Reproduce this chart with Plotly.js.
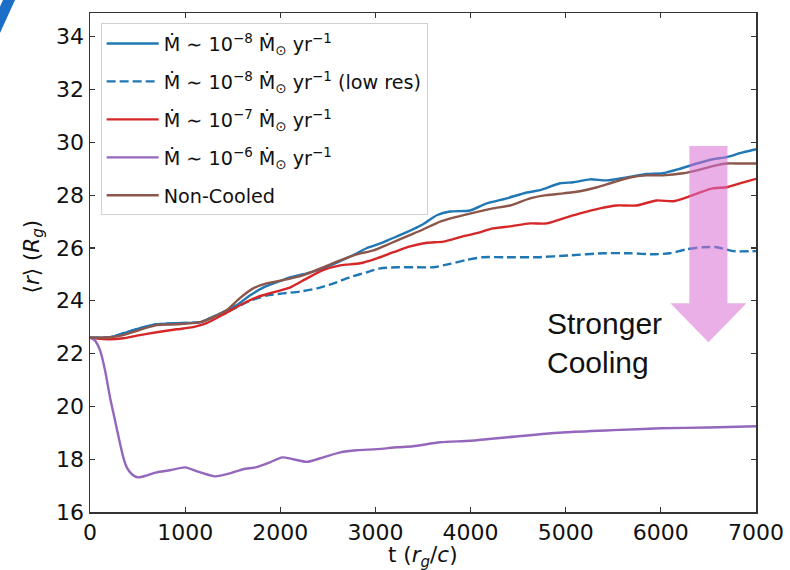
<!DOCTYPE html>
<html>
<head>
<meta charset="utf-8">
<script src="https://cdn.plot.ly/plotly-3.0.1.min.js"></script>
<style>
  html, body { margin: 0; padding: 0; background: #ffffff; }
  #chart { width: 790px; height: 570px; }
</style>
</head>
<body>
<div id="chart"></div>
<script>
// Mean radius <r> versus time for runs with different accretion rates

const tBlue = [0, 210, 350, 525, 700, 910, 1160, 1260, 1400, 1540, 1680, 1820, 1960, 2100, 2280, 2450, 2630, 2805, 2910, 3050, 3155, 3330, 3500, 3645, 3785, 3995, 4170, 4380, 4590, 4730, 4940, 5080, 5255, 5430, 5640, 5850, 6020, 6200, 6380, 6545, 6690, 6830, 7000];
const rBlue = [22.6, 22.62, 22.77, 22.96, 23.11, 23.15, 23.19, 23.34, 23.57, 23.83, 24.2, 24.5, 24.7, 24.89, 25.04, 25.23, 25.5, 25.8, 26.0, 26.17, 26.33, 26.6, 26.9, 27.24, 27.38, 27.42, 27.69, 27.88, 28.1, 28.19, 28.45, 28.49, 28.6, 28.56, 28.67, 28.8, 28.83, 29.0, 29.2, 29.36, 29.44, 29.59, 29.74];

const tLowRes = [0, 210, 350, 525, 700, 910, 1160, 1260, 1400, 1540, 1680, 1855, 2030, 2210, 2385, 2560, 2730, 2910, 3050, 3225, 3435, 3610, 3785, 3960, 4130, 4380, 4700, 5045, 5395, 5675, 5920, 6095, 6270, 6445, 6590, 6760, 7000];
const rLowRes = [22.6, 22.62, 22.77, 22.96, 23.11, 23.15, 23.19, 23.32, 23.5, 23.75, 24.0, 24.2, 24.28, 24.35, 24.47, 24.66, 24.89, 25.08, 25.23, 25.27, 25.27, 25.27, 25.4, 25.55, 25.65, 25.65, 25.65, 25.72, 25.8, 25.8, 25.76, 25.8, 25.95, 26.03, 26.03, 25.88, 25.88];

const tRed = [0, 210, 350, 525, 700, 910, 1085, 1225, 1400, 1575, 1750, 1925, 2100, 2280, 2450, 2630, 2840, 3015, 3190, 3365, 3540, 3715, 3890, 4065, 4235, 4415, 4625, 4800, 5010, 5150, 5360, 5535, 5745, 5955, 6130, 6270, 6415, 6545, 6690, 6830, 7000];
const rRed = [22.6, 22.54, 22.58, 22.7, 22.81, 22.92, 23.0, 23.15, 23.48, 23.83, 24.13, 24.32, 24.5, 24.85, 25.16, 25.34, 25.42, 25.61, 25.84, 26.06, 26.2, 26.24, 26.41, 26.56, 26.74, 26.82, 26.93, 26.93, 27.16, 27.31, 27.5, 27.61, 27.61, 27.8, 27.77, 27.92, 28.11, 28.26, 28.3, 28.45, 28.62];

const tPurple = [0, 50, 105, 158, 210, 263, 315, 350, 385, 440, 505, 600, 700, 840, 1000, 1160, 1315, 1470, 1610, 1750, 1890, 2020, 2135, 2280, 2450, 2630, 2805, 3015, 3225, 3395, 3680, 4000, 4500, 5000, 5500, 6000, 6500, 7000];
const rPurple = [22.6, 22.5, 22.13, 21.37, 20.35, 19.47, 18.6, 18.07, 17.7, 17.43, 17.31, 17.39, 17.5, 17.58, 17.69, 17.5, 17.35, 17.46, 17.62, 17.7, 17.88, 18.07, 18.0, 17.9, 18.07, 18.26, 18.34, 18.38, 18.45, 18.49, 18.64, 18.7, 18.87, 19.02, 19.1, 19.17, 19.2, 19.25];

const tBrown = [0, 210, 350, 525, 700, 910, 1160, 1295, 1435, 1575, 1715, 1855, 2030, 2245, 2450, 2630, 2805, 2980, 3155, 3330, 3500, 3680, 3855, 4025, 4235, 4415, 4625, 4800, 4975, 5150, 5330, 5500, 5675, 5850, 6020, 6235, 6380, 6545, 6690, 6830, 7000];
const rBrown = [22.6, 22.62, 22.7, 22.9, 23.08, 23.11, 23.19, 23.38, 23.64, 24.1, 24.47, 24.66, 24.78, 24.97, 25.27, 25.53, 25.76, 25.91, 26.17, 26.44, 26.7, 27.0, 27.18, 27.33, 27.5, 27.61, 27.88, 28.0, 28.07, 28.15, 28.3, 28.49, 28.67, 28.75, 28.75, 28.83, 28.94, 29.1, 29.2, 29.2, 29.2];

const seriesNames = [
  'Ṁ ∼ 10<sup>−8</sup> Ṁ<sub>⊙</sub> yr<sup>−1</sup>',
  'Ṁ ∼ 10<sup>−8</sup> Ṁ<sub>⊙</sub> yr<sup>−1</sup> (low res)',
  'Ṁ ∼ 10<sup>−7</sup> Ṁ<sub>⊙</sub> yr<sup>−1</sup>',
  'Ṁ ∼ 10<sup>−6</sup> Ṁ<sub>⊙</sub> yr<sup>−1</sup>',
  'Non-Cooled'
];

const xTicks = [0, 1000, 2000, 3000, 4000, 5000, 6000, 7000];
const yTicks = [16, 18, 20, 22, 24, 26, 28, 30, 32, 34];

const xTitle = 't (<i>r</i><sub><i>g</i></sub>/<i>c</i>)';
const yTitle = '⟨<i>r</i>⟩ (<i>R</i><sub><i>g</i></sub>)';

const FONT = 'DejaVu Sans, sans-serif';
const LW = 2.4;

function line(x, y, name, color, dash, group) {
  return {
    x: x, y: y, name: name, type: 'scatter', mode: 'lines', legendgroup: group,
    line: { color: color, width: LW, dash: dash || 'solid', shape: 'spline', smoothing: 0.6 },
    hoverinfo: 'skip'
  };
}

const traces = [
  line(tBlue, rBlue, seriesNames[0], '#1f77b4', 'solid', 'g1'),
  line(tLowRes, rLowRes, seriesNames[1], '#1f77b4', '9px,4px', 'g2'),
  line(tRed, rRed, seriesNames[2], '#d62728', 'solid', 'g3'),
  line(tPurple, rPurple, seriesNames[3], '#9467bd', 'solid', 'g4'),
  line(tBrown, rBrown, seriesNames[4], '#8c564b', 'solid', 'g5')
];

// Downward arrow marking the direction of stronger cooling
const arrow = { xl: 6300, xr: 6700, headL: 6100, headR: 6900, tip: 6500, top: 29.86, neck: 23.91, end: 22.43 };
const arrowPath = `M ${arrow.xl},${arrow.top} L ${arrow.xr},${arrow.top} L ${arrow.xr},${arrow.neck} ` +
  `L ${arrow.headR},${arrow.neck} L ${arrow.tip},${arrow.end} L ${arrow.headL},${arrow.neck} ` +
  `L ${arrow.xl},${arrow.neck} Z`;

const axisCommon = {
  showgrid: false, zeroline: false,
  showline: true, linecolor: '#333333', linewidth: 1.5, mirror: 'ticks',
  ticks: 'inside', ticklen: 5, tickwidth: 1.2, tickcolor: '#333333',
  tickfont: { family: FONT, size: 22, color: '#111111' }
};

const titleFont = { family: FONT, size: 21.5, color: '#111111' };

const layout = {
  width: 790, height: 570,
  margin: { l: 90, r: 34, t: 13, b: 58 },
  paper_bgcolor: '#ffffff', plot_bgcolor: '#ffffff',
  font: { family: FONT, color: '#111111' },
  showlegend: true,
  xaxis: Object.assign({}, axisCommon, {
    range: [0, 7000], tickvals: xTicks, ticktext: xTicks.map(String)
  }),
  yaxis: Object.assign({}, axisCommon, {
    range: [16, 34.9], tickvals: yTicks, ticktext: yTicks.map(String)
  }),
  legend: {
    x: 0.016, y: 0.979, xanchor: 'left', yanchor: 'top',
    bgcolor: 'rgba(255,255,255,0.85)', bordercolor: '#d0d0d0', borderwidth: 1,
    font: { family: FONT, size: 19.2, color: '#111111' },
    itemwidth: 52, tracegroupgap: 10, traceorder: 'grouped'
  },
  shapes: [
    {
      type: 'path', xref: 'x', yref: 'y', path: arrowPath,
      fillcolor: 'rgba(215,110,210,0.55)', line: { width: 0 }, layer: 'above'
    },
    {
      // slide accent stroke in the top-left corner
      type: 'path', xref: 'paper', yref: 'paper',
      path: `M ${(3 - 90) / 666},${(512 - 0) / 499} L ${(15 - 90) / 666},${(512 - 0) / 499} ` +
            `L ${(0 - 90) / 666},${(512 - 33) / 499} L ${(-12 - 90) / 666},${(512 - 33) / 499} Z`,
      fillcolor: '#1b6fc8', line: { width: 0 }, layer: 'above'
    }
  ],
  annotations: [
    {
      xref: 'x', yref: 'y', x: 4782, y: 22.4, xanchor: 'left', yanchor: 'middle', align: 'left',
      text: 'Stronger<br>Cooling', showarrow: false,
      font: { family: 'Liberation Sans, Arial, sans-serif', size: 30, color: '#111111' }
    },
    {
      // x-axis title
      xref: 'paper', yref: 'paper', x: 0.5, y: 0, xanchor: 'center', yanchor: 'middle',
      yshift: -44, borderpad: 0, text: xTitle, showarrow: false, font: titleFont
    },
    {
      // y-axis title
      xref: 'paper', yref: 'paper', x: 0, y: 0.5, xanchor: 'center', yanchor: 'middle',
      xshift: -57, yshift: 6, borderpad: 0, textangle: -90, text: yTitle, showarrow: false, font: titleFont
    }
  ]
};

Plotly.newPlot('chart', traces, layout, { displayModeBar: false, staticPlot: true });
</script>
</body>
</html>
